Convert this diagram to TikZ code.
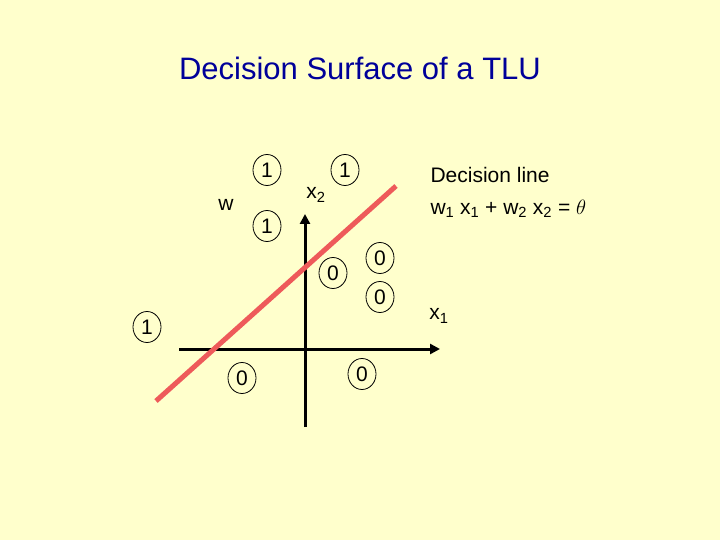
\documentclass[tikz,border=0pt]{standalone}
\usepackage{fontspec}
\setmainfont{Liberation Sans}
\usetikzlibrary{arrows.meta,shapes.geometric}
\definecolor{bg}{HTML}{FFFFCC}
\definecolor{ttl}{HTML}{000099}
\definecolor{redl}{HTML}{EE5A5A}
\begin{document}
\begin{tikzpicture}[x=1pt,y=-1pt,
  lab/.style={font=\fontsize{21}{24}\selectfont},
  pt/.style={draw,ellipse,inner sep=0pt,minimum width=28pt,minimum height=31pt,font=\fontsize{21}{24}\selectfont,line width=0.8pt},
  ax/.style={line width=3pt,-{Triangle[length=10pt,width=10pt]}}]
\path[fill=bg] (0,0) rectangle (720,540);
\useasboundingbox (0,0) rectangle (720,540);
\node[font=\fontsize{31}{36}\selectfont,text=ttl] (title) at (360,68) {Decision Surface of a TLU};
\coordinate (hl) at (179,349); \coordinate (hr) at (440,349);
\coordinate (vb) at (305,427); \coordinate (vt) at (305,214);
\draw[ax] (hl) -- (hr);
\draw[ax] (vb) -- (vt);
\coordinate (ra) at (156,401); \coordinate (rb) at (396,186);
\draw[redl,line width=5pt] (ra) -- (rb);
\node[pt] (a1) at (267,170) {1};
\node[pt] (a2) at (345,170) {1};
\node[pt] (a3) at (267,226) {1};
\node[pt] (a4) at (147,327) {1};
\node[pt] (b1) at (333,273) {0};
\node[pt] (b2) at (380,258) {0};
\node[pt] (b3) at (380,297) {0};
\node[pt] (b4) at (242,378) {0};
\node[pt] (b5) at (362,374) {0};
\node[lab] (w) at (226,205) {w};
\node[lab] (x2) at (316,195) {x\textsubscript{2}};
\node[lab] (x1) at (439,316) {x\textsubscript{1}};
\node[lab,anchor=west] (dl) at (427,175) {Decision line};
\node[lab,anchor=west] (eq) at (427,209) {w\textsubscript{1} x\textsubscript{1} + w\textsubscript{2} x\textsubscript{2} = $\theta$};
\end{tikzpicture}
\end{document}
